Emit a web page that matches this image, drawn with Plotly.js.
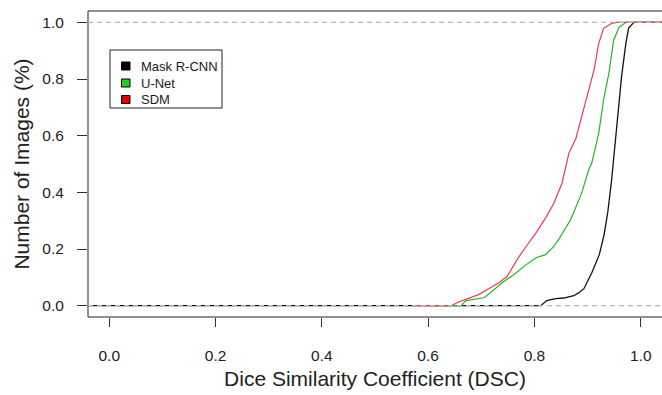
<!DOCTYPE html>
<html>
<head>
<meta charset="utf-8">
<script src="https://cdn.plot.ly/plotly-3.0.1.min.js"></script>
<style>html,body{margin:0;padding:0;background:#fff;}#chart{width:662px;height:395px;}</style>
</head>
<body>
<div id="chart"></div>
<script>
// Series names
const seriesNames = ["Mask R-CNN", "U-Net", "SDM"];

// Mask R-CNN cumulative curve (DSC, fraction of images)
const maskX = [-0.05, 0.812, 0.823, 0.840, 0.855, 0.874, 0.883, 0.893, 0.908, 0.922, 0.931, 0.938, 0.945, 0.953, 0.959, 0.964, 0.972, 0.977, 0.987, 1.05];
const maskY = [0, 0, 0.018, 0.025, 0.027, 0.035, 0.045, 0.06, 0.116, 0.18, 0.25, 0.33, 0.44, 0.585, 0.70, 0.81, 0.926, 0.979, 1.0, 1.0];

// U-Net cumulative curve
const unetX = [0.60, 0.662, 0.671, 0.682, 0.705, 0.720, 0.739, 0.761, 0.784, 0.803, 0.821, 0.836, 0.846, 0.868, 0.889, 0.902, 0.908, 0.921, 0.930, 0.940, 0.949, 0.959, 0.972, 1.05];
const unetY = [0, 0, 0.018, 0.021, 0.028, 0.05, 0.081, 0.109, 0.144, 0.169, 0.18, 0.208, 0.235, 0.303, 0.398, 0.479, 0.504, 0.609, 0.725, 0.82, 0.937, 0.982, 1.0, 1.0];

// SDM cumulative curve
const sdmX = [0.57, 0.643, 0.658, 0.677, 0.695, 0.714, 0.733, 0.748, 0.758, 0.771, 0.784, 0.803, 0.821, 0.836, 0.852, 0.865, 0.878, 0.893, 0.902, 0.912, 0.921, 0.930, 0.945, 0.955, 1.05];
const sdmY = [0, 0, 0.014, 0.028, 0.039, 0.06, 0.081, 0.102, 0.134, 0.173, 0.208, 0.257, 0.31, 0.36, 0.433, 0.539, 0.59, 0.70, 0.76, 0.831, 0.926, 0.979, 0.996, 1.0, 1.0];

// Tick values / labels
const xTicks = [0.0, 0.2, 0.4, 0.6, 0.8, 1.0];
const xTickText = ["0.0", "0.2", "0.4", "0.6", "0.8", "1.0"];
const yTicks = [0.0, 0.2, 0.4, 0.6, 0.8, 1.0];
const yTickText = ["0.0", "0.2", "0.4", "0.6", "0.8", "1.0"];
const refLevels = [0, 1];

const lineColors = ["#111111", "#22b822", "#ec3a58"];
const boxColors = ["#000000", "#22cc22", "#e00000"];

const FONT = "Liberation Sans, Arial, sans-serif";

const traces = [
  {x: maskX, y: maskY, mode: "lines", line: {color: lineColors[0], width: 1.3}, showlegend: false, name: seriesNames[0]},
  {x: unetX, y: unetY, mode: "lines", line: {color: lineColors[1], width: 1.2}, showlegend: false, name: seriesNames[1]},
  {x: sdmX, y: sdmY, mode: "lines", line: {color: lineColors[2], width: 1.2}, showlegend: false, name: seriesNames[2]}
];

// Plot area geometry in pixels (for legend placement)
const L = 88, T = 11, W = 574, H = 306;
const px = v => (v - L) / W;
const py = v => (T + H - v) / H;

const shapes = [];
// frame (right side falls off the canvas)
shapes.push({type: "rect", xref: "paper", yref: "paper", x0: 0, x1: 1.02, y0: 0, y1: 1, line: {color: "#222", width: 1}, layer: "above"});
// dashed reference lines
refLevels.forEach(v => shapes.push({type: "line", xref: "paper", yref: "y", x0: 0, x1: 1, y0: v, y1: v, line: {color: "#b4b4b4", width: 1.2, dash: "5px,4px"}, layer: "above"}));
// legend box
shapes.push({type: "rect", xref: "paper", yref: "paper", x0: px(110), x1: px(222), y0: py(108), y1: py(50), line: {color: "#222", width: 1}, fillcolor: "rgba(255,255,255,0)", layer: "above"});
const rowY = [66, 83, 99.5];
const annotations = [];
seriesNames.forEach((n, i) => {
  shapes.push({type: "rect", xref: "paper", yref: "paper", x0: px(121.5), x1: px(130), y0: py(rowY[i] + 4), y1: py(rowY[i] - 4), line: {color: "#000", width: 1}, fillcolor: boxColors[i], layer: "above"});
  annotations.push({xref: "paper", yref: "paper", x: px(139), y: py(rowY[i]), xanchor: "left", yanchor: "middle", text: n, showarrow: false, font: {family: FONT, size: 13, color: "#1a1a1a"}});
});

const layout = {
  width: 662, height: 395,
  margin: {l: L, r: 0, t: T, b: 395 - T - H},
  paper_bgcolor: "#fff", plot_bgcolor: "#fff",
  showlegend: false,
  font: {family: FONT, size: 15.5, color: "#222"},
  xaxis: {
    range: [-0.04, 1.04], tickvals: xTicks, ticktext: xTickText,
    showgrid: false, zeroline: false, showline: false,
    ticks: "outside", ticklen: 9, tickwidth: 1, tickcolor: "#333",
    ticklabelstandoff: 15,
    tickfont: {family: FONT, size: 15.5, color: "#222"},
    title: {text: "Dice Similarity Coefficient (DSC)", font: {family: FONT, size: 21, color: "#222"}, standoff: 8}
  },
  yaxis: {
    range: [-0.04, 1.04], tickvals: yTicks, ticktext: yTickText,
    showgrid: false, zeroline: false, showline: false,
    ticks: "outside", ticklen: 10, tickwidth: 1, tickcolor: "#333",
    ticklabelstandoff: 10,
    tickfont: {family: FONT, size: 15.5, color: "#222"},
    title: {text: "Number of Images (%)", font: {family: FONT, size: 21, color: "#222"}, standoff: 6}
  },
  shapes: shapes,
  annotations: annotations
};

Plotly.newPlot("chart", traces, layout, {displayModeBar: false, staticPlot: true});
</script>
</body>
</html>
